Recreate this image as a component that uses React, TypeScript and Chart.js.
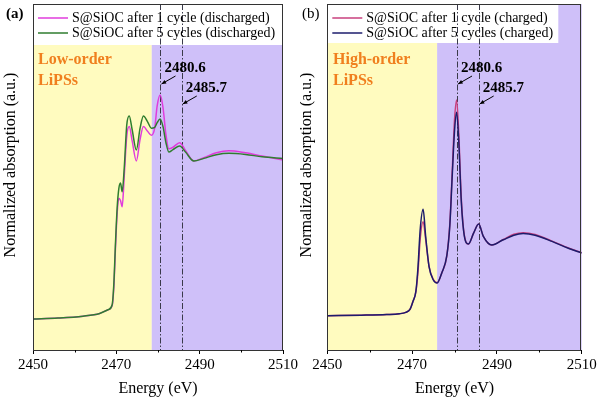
import React, { useEffect, useRef } from "react";
import { Chart, registerables } from "chart.js";

Chart.register(...registerables);

// ---- Panel (a): discharged S K-edge spectra ----
const energyA = [
  2450, 2456, 2462, 2466, 2468, 2469, 2469.4, 2469.8, 2470.2, 2470.6, 2471.0, 2471.4,
  2471.9, 2472.5, 2473.1, 2473.8, 2474.8, 2475.7, 2476.5, 2477.5, 2478.4, 2479.2,
  2479.8, 2480.5, 2481.2, 2481.9, 2482.6, 2483.6, 2485.2, 2486.6, 2488.6, 2491.0,
  2494.0, 2497.0, 2501.0, 2505.0, 2510.0,
];
const dischargedOneCycle = [
  0.0, 0.006, 0.018, 0.035, 0.058, 0.085, 0.2, 0.45, 0.667, 0.76, 0.745, 0.706,
  0.9, 1.15, 1.21, 1.12, 0.994, 1.13, 1.21, 1.18, 1.155, 1.2,
  1.34, 1.409, 1.33, 1.16, 1.07, 1.08, 1.109, 1.06, 0.994, 1.015,
  1.045, 1.058, 1.045, 1.025, 1.0,
];
const dischargedFiveCycles = [
  0.0, 0.006, 0.018, 0.035, 0.058, 0.09, 0.22, 0.48, 0.7, 0.82, 0.855, 0.8,
  0.95, 1.22, 1.277, 1.19, 1.063, 1.2, 1.277, 1.24, 1.2, 1.205,
  1.235, 1.258, 1.21, 1.11, 1.05, 1.065, 1.088, 1.05, 0.994, 1.01,
  1.033, 1.042, 1.035, 1.02, 1.01,
];

// ---- Panel (b): charged S K-edge spectra ----
const energyB = [
  2450, 2458, 2464, 2467, 2468.5, 2469.5, 2470.2, 2470.9, 2471.4, 2471.9, 2472.6,
  2473.2, 2474.0, 2475.0, 2475.9, 2477.0, 2478.2, 2478.9, 2479.5, 2480.0, 2480.5,
  2481.0, 2481.6, 2482.3, 2483.3, 2484.5, 2485.7, 2486.8, 2488.8, 2491.5, 2494.0,
  2496.2, 2499.0, 2503.0, 2507.0, 2510.0,
];
const chargedOneCycle = [
  0.021, 0.024, 0.028, 0.033, 0.042, 0.06, 0.11, 0.172, 0.3, 0.5, 0.612,
  0.5, 0.33, 0.25, 0.228, 0.29, 0.4, 0.6, 0.95, 1.25, 1.377,
  1.17, 0.76, 0.53, 0.472, 0.54, 0.597, 0.52, 0.465, 0.5, 0.533,
  0.543, 0.532, 0.49, 0.445, 0.417,
];
const chargedFiveCycles = [
  0.021, 0.024, 0.028, 0.033, 0.042, 0.06, 0.11, 0.175, 0.33, 0.56, 0.69,
  0.52, 0.33, 0.245, 0.226, 0.29, 0.4, 0.59, 0.92, 1.18, 1.3,
  1.12, 0.74, 0.525, 0.472, 0.54, 0.597, 0.52, 0.465, 0.498, 0.527,
  0.537, 0.527, 0.488, 0.443, 0.415,
];

// ---- Shared axis / annotation values ----
const xMajorTicks = [2450, 2470, 2490, 2510];
const xMinorTicks = [2460, 2480, 2500];
const peakEnergies = [2480.6, 2485.7];
const peakLabels = ["2480.6", "2485.7"];

const SERIF = "'Liberation Serif', 'Times New Roman', serif";
const YELLOW = "#fffbbf";
const PURPLE = "#cfc0f9";
const MARK = "#3a3a4a";

type Series = { label: string; values: number[]; color: string; order: number };
type PanelSpec = {
  key: string;
  tag: string;
  tagBold: boolean;
  energy: number[];
  series: Series[];
  edge: number;
  regionLines: string[];
  canvasLeft: number;
  padLeft: number;
  padRight: number;
  legendWidth: number;
  legendHeight: number;
  yTitleX: number;
  tagX: number;
  regionX: number;
};

const panels: PanelSpec[] = [
  {
    key: "a",
    tag: "(a)",
    tagBold: true,
    energy: energyA,
    series: [
      { label: "S@SiOC after 1 cycle (discharged)", values: dischargedOneCycle, color: "#e03cdc", order: 1 },
      { label: "S@SiOC after 5 cycles (discharged)", values: dischargedFiveCycles, color: "#2f7d2f", order: 0 },
    ],
    edge: 2478.5,
    regionLines: ["Low-order", "LiPSs"],
    canvasLeft: 0,
    padLeft: 33,
    padRight: 13.7,
    legendWidth: 249,
    legendHeight: 41,
    yTitleX: 11,
    tagX: 6,
    regionX: 38,
  },
  {
    key: "b",
    tag: "(b)",
    tagBold: false,
    energy: energyB,
    series: [
      { label: "S@SiOC after 1 cycle (charged)", values: chargedOneCycle, color: "#c8407e", order: 1 },
      { label: "S@SiOC after 5 cycles (charged)", values: chargedFiveCycles, color: "#1c1c6c", order: 0 },
    ],
    edge: 2475.9,
    regionLines: ["High-order", "LiPSs"],
    canvasLeft: 300,
    padLeft: 27.3,
    padRight: 18.3,
    legendWidth: 231,
    legendHeight: 39,
    yTitleX: 7,
    tagX: 2,
    regionX: 33,
  },
];

function decorPlugin(spec: PanelSpec) {
  return {
    id: "decor-" + spec.key,
    beforeDatasetsDraw(chart: any) {
      const { ctx, chartArea: a, scales } = chart;
      const x = scales.x;
      const split = x.getPixelForValue(spec.edge);
      ctx.save();
      // energy-region shading
      ctx.fillStyle = YELLOW;
      ctx.fillRect(a.left, a.top, split - a.left, a.bottom - a.top);
      ctx.fillStyle = PURPLE;
      ctx.fillRect(split, a.top, a.right - split, a.bottom - a.top);
      // legend background
      ctx.fillStyle = "#ffffff";
      ctx.fillRect(a.left, a.top, spec.legendWidth, spec.legendHeight);
      // dash-dot markers at the peak energies
      ctx.strokeStyle = MARK;
      ctx.lineWidth = 1;
      ctx.setLineDash([6, 2, 1.5, 2]);
      for (const v of peakEnergies) {
        const px = Math.round(x.getPixelForValue(v)) + 0.5;
        ctx.beginPath();
        ctx.moveTo(px, a.top);
        ctx.lineTo(px, a.bottom);
        ctx.stroke();
      }
      ctx.restore();
    },
    afterDatasetsDraw(chart: any) {
      const { ctx, chartArea: a, scales } = chart;
      const x = scales.x;
      ctx.save();
      // frame
      ctx.strokeStyle = "#333333";
      ctx.lineWidth = 1;
      ctx.strokeRect(Math.round(a.left) + 0.5, Math.round(a.top) + 0.5,
        Math.round(a.right - a.left) - 1, Math.round(a.bottom - a.top));
      // minor ticks
      ctx.strokeStyle = "#000000";
      for (const v of xMinorTicks) {
        const px = Math.round(x.getPixelForValue(v)) + 0.5;
        ctx.beginPath();
        ctx.moveTo(px, a.bottom);
        ctx.lineTo(px, a.bottom + 2.5);
        ctx.stroke();
      }
      // legend entries
      ctx.textBaseline = "middle";
      ctx.textAlign = "left";
      ctx.font = `14px ${SERIF}`;
      spec.series.forEach((s, i) => {
        const y = a.top + 14 + i * 15;
        ctx.strokeStyle = s.color;
        ctx.lineWidth = 1.5;
        ctx.beginPath();
        ctx.moveTo(a.left + 5, y);
        ctx.lineTo(a.left + 35, y);
        ctx.stroke();
        ctx.fillStyle = "#000000";
        ctx.fillText(s.label, a.left + 39, y);
      });
      // region label
      ctx.fillStyle = "#f07f1e";
      ctx.font = `bold 16px ${SERIF}`;
      ctx.fillText(spec.regionLines[0], spec.regionX, 60);
      ctx.fillText(spec.regionLines[1], spec.regionX, 81);
      // peak annotations with arrows
      ctx.fillStyle = "#000000";
      ctx.strokeStyle = "#000000";
      ctx.font = `bold 15px ${SERIF}`;
      const labelY = [68, 88];
      peakEnergies.forEach((v, i) => {
        const px = x.getPixelForValue(v);
        const ty = labelY[i];
        ctx.fillText(peakLabels[i], px + 4, ty);
        const tipX = px + 1;
        const tipY = ty + 16;
        const tailX = px + 15;
        const tailY = ty + 8;
        ctx.lineWidth = 1;
        ctx.beginPath();
        ctx.moveTo(tailX, tailY);
        ctx.lineTo(tipX, tipY);
        ctx.stroke();
        const ang = Math.atan2(tipY - tailY, tipX - tailX);
        ctx.beginPath();
        ctx.moveTo(tipX, tipY);
        ctx.lineTo(tipX - 5 * Math.cos(ang - 0.4), tipY - 5 * Math.sin(ang - 0.4));
        ctx.lineTo(tipX - 5 * Math.cos(ang + 0.4), tipY - 5 * Math.sin(ang + 0.4));
        ctx.closePath();
        ctx.fill();
      });
      // panel tag
      ctx.font = `${spec.tagBold ? "bold " : ""}15px ${SERIF}`;
      ctx.fillText(spec.tag, spec.tagX, 14);
      // axis titles
      ctx.font = `16px ${SERIF}`;
      ctx.textAlign = "center";
      ctx.fillText("Energy (eV)", (a.left + a.right) / 2, 389);
      ctx.translate(spec.yTitleX, (a.top + a.bottom) / 2 - 12);
      ctx.rotate(-Math.PI / 2);
      ctx.fillText("Normalized absorption (a.u.)", 0, 0);
      ctx.restore();
    },
  };
}

function Panel({ spec }: { spec: PanelSpec }) {
  const ref = useRef<HTMLCanvasElement | null>(null);
  useEffect(() => {
    if (!ref.current) return;
    const chart = new Chart(ref.current, {
      type: "line",
      data: {
        datasets: spec.series.map((s) => ({
          label: s.label,
          data: spec.energy.map((e, i) => ({ x: e, y: s.values[i] })),
          borderColor: s.color,
          borderWidth: 1.5,
          pointRadius: 0,
          fill: false,
          cubicInterpolationMode: "monotone" as const,
          order: s.order,
        })),
      },
      options: {
        responsive: false,
        animation: false,
        devicePixelRatio: 1,
        layout: { padding: { left: spec.padLeft, right: spec.padRight, top: 4, bottom: 0 } },
        plugins: { legend: { display: false }, tooltip: { enabled: false } },
        scales: {
          x: {
            type: "linear",
            min: 2450,
            max: 2510,
            afterBuildTicks: (scale: any) => {
              scale.ticks = xMajorTicks.map((v) => ({ value: v }));
            },
            afterFit: (scale: any) => {
              scale.height = 51;
            },
            ticks: {
              font: { family: SERIF, size: 15 },
              color: "#000000",
              padding: 2,
              maxRotation: 0,
              callback: (v: any) => String(v),
            },
            grid: { drawOnChartArea: false, drawTicks: true, tickLength: 4, color: "#000000", lineWidth: 1 },
            border: { display: false },
          },
          y: {
            display: false,
            min: -0.195,
            max: 1.981,
          },
        },
      },
      plugins: [decorPlugin(spec)],
    });
    return () => chart.destroy();
  }, [spec]);
  return (
    <canvas
      ref={ref}
      width={300}
      height={401}
      style={{ position: "absolute", left: spec.canvasLeft, top: 0, width: 300, height: 401 }}
    />
  );
}

export default function App() {
  return (
    <div style={{ position: "fixed", left: 0, top: 0, width: 600, height: 401, background: "#ffffff" }}>
      {panels.map((p) => (
        <Panel key={p.key} spec={p} />
      ))}
    </div>
  );
}
